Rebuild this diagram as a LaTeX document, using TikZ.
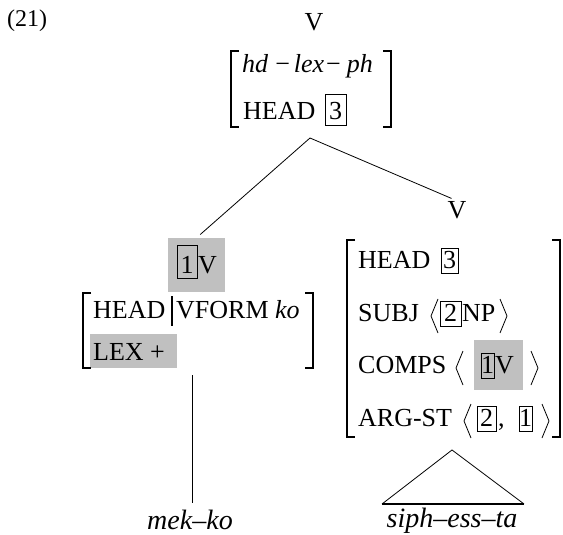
\documentclass[tikz,border=0pt]{standalone}
\usepackage{fontspec}
\setmainfont{Liberation Serif}
\usetikzlibrary{calc}
\definecolor{shade}{RGB}{192,192,192}
\newcommand\avmbrackets[4]{%
  \draw[brk] (#1+8,#3) -- (#1,#3) -- (#1,#4) -- (#1+8,#4);
  \draw[brk] (#2-8,#3) -- (#2,#3) -- (#2,#4) -- (#2-8,#4);}
\newcommand\langlepath[2]{\draw[ang] (#1+7,#2-22) -- (#1,#2-5) -- (#1+7,#2+12);}
\newcommand\ranglepath[2]{\draw[ang] (#1,#2-22) -- (#1+7,#2-5) -- (#1,#2+12);}
\begin{document}
\begin{tikzpicture}[x=1pt,y=-1pt,
  txt/.style={inner sep=0pt, anchor=base west, font=\fontsize{26}{30}\selectfont},
  ctr/.style={inner sep=0pt, anchor=base, font=\fontsize{26}{30}\selectfont},
  bx/.style={draw, line width=0.8pt, inner sep=0pt, anchor=base,
    font=\fontsize{26}{30}\selectfont, text height=20pt, text depth=5pt, minimum width=#1},
  bx/.default=17pt,
  shadebox/.style={fill=shade, inner sep=0pt},
  brk/.style={line width=1.1pt},
  edge/.style={line width=0.8pt},
  ang/.style={line width=0.8pt},
  word/.style={inner sep=0pt, anchor=base, font=\fontsize{28}{32}\selectfont\itshape}
]
\useasboundingbox (0,0) rectangle (563,535);
% example number
\node[txt, font=\fontsize{24}{28}\selectfont] (ex) at (7,27) {(21)};
% top node
\node[ctr] (vtop) at (314,31) {V};
\avmbrackets{231}{391}{51}{127}
\node[txt] (trow1) at (242,73) {\textit{hd}\hspace{7pt}−\hspace{4pt}\textit{lex}\hspace{2pt}−\hspace{6pt}\textit{ph}};
\node[txt] (thead) at (243,120) {HEAD};
\node[bx=21pt, text height=26pt, text depth=5pt] (tb3) at (335.5,120) {3};
\coordinate (apex) at (310,138);
% left daughter
\node[shadebox, minimum width=57pt, minimum height=54pt] (lv) at (196.5,265) {};
\node[shadebox, minimum width=87pt, minimum height=34pt] (lexbg) at (133.5,351) {};
\node[bx=20pt, text height=28pt, text depth=5pt] (lb1) at (187,273) {1};
\node[txt] (lvV) at (198,273) {V};
\avmbrackets{83}{313}{293}{368}
\node[txt] (lhead) at (93,318) {HEAD};
\draw[line width=1.1pt] (172,296) -- (172,326);
\node[txt] (vform) at (176,318) {VFORM \textit{ko}};
\node[txt] (lexp) at (93,360) {LEX +};
\coordinate (lstem) at (192,375);
\node[word] (mekko) at (190,529) {mek–ko};
% right daughter
\node[ctr] (rv) at (457,218) {V};
\avmbrackets{347}{560}{240}{437}
\node[txt] (rhead) at (358,268) {HEAD};
\node[bx] (rb3) at (449.5,268) {3};
\node[txt] (subj) at (358,321) {SUBJ};
\langlepath{431}{321}
\node[bx=21pt] (rb2) at (450.5,321) {2};
\node[txt] (np) at (462,321) {NP};
\ranglepath{500}{321}
\node[shadebox, minimum width=49pt, minimum height=50pt] (compsbg) at (498.5,365) {};
\node[txt] (comps) at (358,373) {COMPS};
\langlepath{456}{373}
\node[bx=13pt] (cb1) at (487.5,373) {1};
\node[txt] (cv) at (495,373) {V};
\ranglepath{531}{373}
\node[txt] (argst) at (358,426) {ARG-ST};
\langlepath{464}{426}
\node[bx=19pt] (ab2) at (486.5,426) {2};
\node[txt] (comma) at (498,426) {,};
\node[bx=13pt] (ab1) at (525.5,426) {1};
\ranglepath{542}{426}
\coordinate (tA) at (452,450);
\coordinate (tL) at (382,504);
\coordinate (tR) at (524,504);
\node[word] (siph) at (452,527) {siph–ess–ta};
% connectors
\draw[edge, shorten >=5pt] (apex) -- (lv.north);
\draw[edge, shorten >=6pt] (apex) -- (rv.north);
\draw[edge, shorten >=6pt] (lstem) -- (lstem |- mekko.north);
\draw[edge] (tL) -- (tA) -- (tR);
\draw[line width=1.6pt] (tL) -- (tR);
\end{tikzpicture}
\end{document}
